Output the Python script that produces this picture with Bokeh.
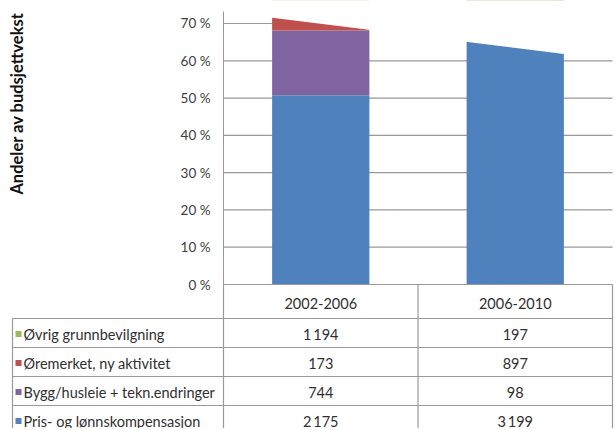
import math
from bokeh.plotting import figure
from bokeh.models import Range1d, FixedTicker, CustomJSTickFormatter, ColumnDataSource
from bokeh.embed import file_html
from bokeh.resources import INLINE
from bokeh.core.properties import value

# ---------------- data ----------------
periods = ["2002-2006", "2006-2010"]
series_names = ["Øvrig grunnbevilgning", "Øremerket, ny aktivitet",
                "Bygg/husleie + tekn.endringer", "Pris- og lønnskompensasjon"]
ovrig = [1194, 197]
oremerket = [173, 897]
bygg = [744, 98]
pris = [2175, 3199]
series_colors = ["#9BBB59", "#C0504D", "#8064A2", "#4F81BD"]
y_ticks = [0, 10, 20, 30, 40, 50, 60, 70]
y_title = "Andeler av budsjettvekst"

FONT = "Lato"
TXT = "#303030"
LINE = "#999999"

# ---------------- layout constants (pixels) ----------------
W, H = 614, 428
AXIS_X = 223          # pixel position of the value axis
RIGHT_X = 612         # right edge of plot / table
BASE_Y = 284          # pixel position of 0 %
PX = 3.7286           # pixels per percent
UNIT = (RIGHT_X - AXIS_X) / 2.0   # pixels per category
TOP_CUT = 11          # top of the axis

def dx(px):   # pixel column -> data x
    return (px - AXIS_X) / UNIT

def dy(px):   # pixel row -> data y
    return (BASE_Y - px) / PX

series_values = [ovrig, oremerket, bygg, pris]
totals = [sum(s[i] for s in series_values) for i in range(len(periods))]
shares = {name: [100.0 * v / t for v, t in zip(vals, totals)]
          for name, vals in zip(series_names, series_values)}

xs = [i + 0.5 for i in range(len(periods))]
src = dict(x=xs)
src.update(shares)
source = ColumnDataSource(src)

p = figure(width=W, height=H, output_backend="svg", toolbar_location=None,
           x_range=Range1d(dx(0), dx(W)), y_range=Range1d(dy(H), dy(0)),
           x_axis_location=None, min_border=0, outline_line_color=None,
           background_fill_color="white")
p.grid.visible = False

ax = p.yaxis[0]
ax.fixed_location = 0
ax.bounds = (0, dy(TOP_CUT))
ax.ticker = FixedTicker(ticks=y_ticks)
ax.formatter = CustomJSTickFormatter(code="return tick + ' %';")
ax.major_tick_out = 0
ax.major_tick_in = 0
ax.minor_tick_line_color = None
ax.axis_line_color = LINE
ax.major_label_standoff = 13
ax.major_label_text_font = FONT
ax.major_label_text_font_size = "13.5px"
ax.major_label_text_color = "#404040"

# horizontal gridlines at the tick values
ncat = float(len(periods))
p.segment(x0=[0.0] * len(y_ticks), x1=[ncat] * len(y_ticks), y0=y_ticks, y1=y_ticks,
          line_color=LINE, line_width=1.2)

stack_order = list(reversed(series_names))
stack_colors = list(reversed(series_colors))
p.vbar_stack(stack_order, x="x", width=0.5, color=stack_colors, line_color=None,
             source=source)

# white slanted cut-off of the scanned original
slope = 0.125
y_left = dy(17 + slope * (AXIS_X - 272))
y_right = dy(17 + slope * (RIGHT_X + 2 - 272))
p.patch(x=[-0.01, dx(RIGHT_X + 2), dx(RIGHT_X + 2), -0.01],
        y=[y_left, y_right, dy(0) + 5, dy(0) + 5], fill_color="white", line_color=None)

# y-axis title
p.text(x=[dx(16)], y=[dy(103)], text=[y_title], angle=math.pi / 2, text_align="center",
       text_baseline="middle", text_font=value(FONT), text_font_style="bold",
       text_font_size="16.5px", text_color="#111111")

# ---------------- table ----------------
HEAD = 34
ROW = 29
n = len(series_names)
left_x = dx(12)
bounds_px = [BASE_Y + HEAD + ROW * i for i in range(n + 1)]

hx0 = [0.0] + [left_x] * (n + 1)
hx1 = [ncat] * (n + 2)
hy = [dy(BASE_Y)] + [dy(b) for b in bounds_px]
p.segment(x0=hx0, y0=hy, x1=hx1, y1=hy, line_color=LINE, line_width=1.2)
vx = [left_x] + [float(i) for i in range(len(periods) + 1)]
vy0 = [dy(BASE_Y + HEAD)] + [dy(TOP_CUT) if i == 0 else 0.0 for i in range(len(periods) + 1)]
vy0[1] = 0.0
p.segment(x0=vx, y0=vy0, x1=vx, y1=[dy(bounds_px[-1])] * len(vx),
          line_color=LINE, line_width=1.2)

p.text(x=xs, y=[dy(BASE_Y + HEAD / 2 + 2)] * len(periods), text=periods,
       text_align="center", text_baseline="middle", text_font=value(FONT),
       text_font_size="14.5px", text_color=TXT)

row_y = [dy(BASE_Y + HEAD + ROW * i + ROW / 2 + 1) for i in range(n)]
p.scatter(x=[dx(18)] * n, y=row_y, marker="square", size=6, color=series_colors,
          line_color=None)
p.text(x=[dx(23)] * n, y=row_y, text=series_names, text_align="left",
       text_baseline="middle", text_font=value(FONT), text_font_size="14.5px",
       text_color=TXT)

def fmt(v):
    return f"{v:,}".replace(",", "\u2009")

for j, xc in enumerate(xs):
    p.text(x=[xc] * n, y=row_y, text=[fmt(s[j]) for s in series_values],
           text_align="center", text_baseline="middle", text_font=value(FONT),
           text_font_size="14.5px", text_color=TXT)

open("out.html", "w").write(file_html(p, INLINE))
